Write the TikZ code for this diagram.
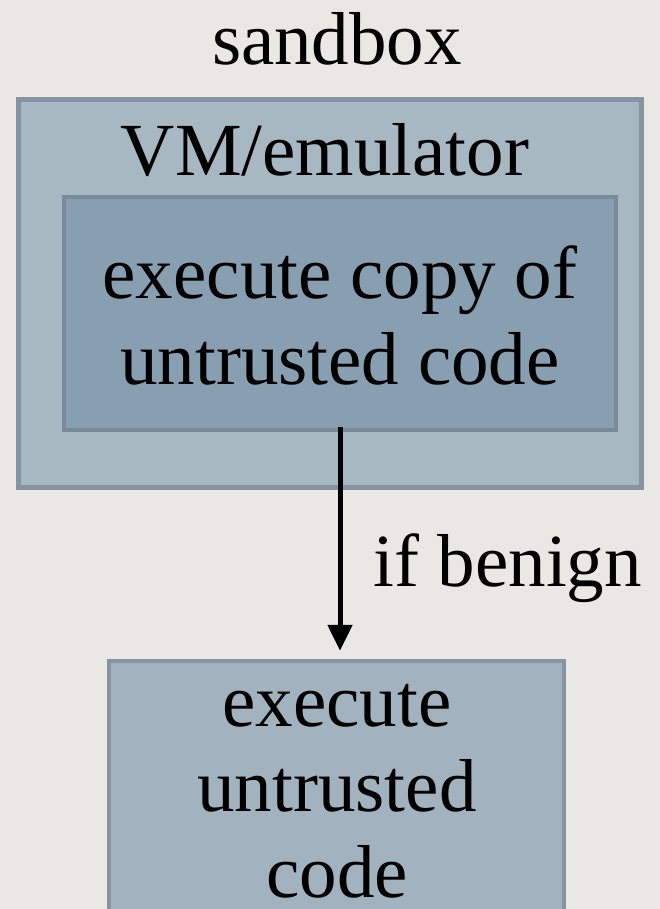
\documentclass[tikz,border=0pt]{standalone}
\usepackage{fontspec}
\setmainfont{Liberation Serif}
\usetikzlibrary{arrows.meta}
\definecolor{bgc}{HTML}{EAE8E4}
\definecolor{outerfill}{HTML}{A8B8C3}
\definecolor{outerline}{HTML}{8593A2}
\definecolor{innerfill}{HTML}{889EB1}
\definecolor{innerline}{HTML}{7A8A9B}
\definecolor{lowerfill}{HTML}{A2B3BF}
\tikzset{
  box/.style={draw, rectangle, inner sep=0pt, line width=4.5pt},
  bigtext/.style={font=\fontsize{75}{86}\selectfont, inner sep=0pt, anchor=base},
  flow/.style={line width=5pt, -{Triangle[length=26pt,width=24pt]}, shorten >=8pt}
}
\begin{document}
\begin{tikzpicture}[x=1pt,y=-1pt]
\useasboundingbox (0,0) rectangle (660,909);
\clip (0,0) rectangle (660,909);
\fill[bgc] (0,0) rectangle (660,909);
\node[box, fill=outerfill, draw=outerline, minimum width=623pt, minimum height=388pt] (outer) at (330,293.5) {};
\node[box, fill=innerfill, draw=innerline, minimum width=552pt, minimum height=233pt] (inner) at (340,313.5) {};
\node[box, fill=lowerfill, draw=outerline, minimum width=455pt, minimum height=300pt] (lower) at (336.5,811) {};
\node[bigtext] (title) at (337,65) {sandbox};
\node[bigtext] (vm) at (325,176) {VM/emulator};
\node[bigtext] (t1) at (340,298) {execute copy of};
\node[bigtext] (t2) at (340,384) {untrusted code};
\node[bigtext] (b1) at (337,726) {execute};
\node[bigtext] (b2) at (337,811) {untrusted};
\node[bigtext] (b3) at (337,897) {code};
\node[bigtext, anchor=base west] (lbl) at (373,586) {if benign};
\coordinate (start) at (340,427);
\draw[flow] (start) -- (start |- lower.north);
\end{tikzpicture}
\end{document}
